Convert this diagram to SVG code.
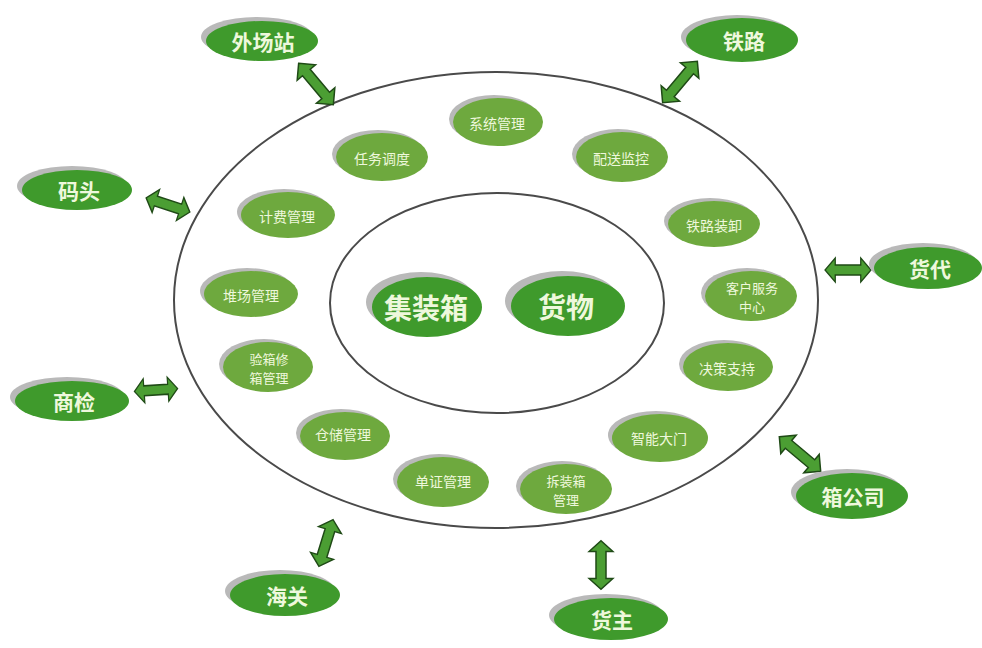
<svg xmlns="http://www.w3.org/2000/svg" xmlns:xlink="http://www.w3.org/1999/xlink" width="982" height="648" viewBox="0 0 982 648">
<style>
.ring{fill:none;stroke:#4a4a4a;stroke-width:2}
.sh{fill:#b9b9b9}
.big{fill:#3f9a2c}
.small{fill:#6ea93e}
.tb{font-family:"Noto Sans CJK SC","Noto Sans",sans-serif;fill:#eef8dc;text-anchor:middle;dominant-baseline:central}
.t1{font-size:21px;font-weight:bold}
.t0{font-size:28px;font-weight:bold}
.t2{font-size:14px}
.t3{font-size:13px}
.arr{fill:#4b9e33;stroke:#1f4a16;stroke-width:1.5;stroke-linejoin:miter}
</style>
<defs>
<path id="dbl" d="M-27,0 L-15,-12 L-15,-5 L15,-5 L15,-12 L27,0 L15,12 L15,5 L-15,5 L-15,12 Z"/>
</defs>
<rect width="982" height="648" fill="#ffffff"/>
<ellipse class="ring" cx="496" cy="300" rx="322" ry="228"/>
<ellipse class="ring" cx="497" cy="303" rx="167" ry="110"/>
<g id="connectors">
<use href="#dbl" class="arr" transform="translate(316,84) rotate(50)"/>
<use href="#dbl" class="arr" transform="translate(680,82) rotate(-50)"/>
<use href="#dbl" class="arr" transform="translate(168,205) rotate(18) scale(0.85,1)"/>
<use href="#dbl" class="arr" transform="translate(848,270) rotate(0) scale(0.85,1)"/>
<use href="#dbl" class="arr" transform="translate(156,390) rotate(-4) scale(0.8,1)"/>
<use href="#dbl" class="arr" transform="translate(800,454) rotate(40)"/>
<use href="#dbl" class="arr" transform="translate(601,565) rotate(90) scale(0.9,1)"/>
<use href="#dbl" class="arr" transform="translate(326,543) rotate(107) scale(0.9,1)"/>
</g>
<g id="n-waichangzhan"><ellipse class="sh" cx="257" cy="37" rx="56" ry="20"/><ellipse class="big" cx="262" cy="41" rx="56" ry="20"/><text class="tb t1" x="263" y="41">外场站</text></g>
<g id="n-tielu"><ellipse class="sh" cx="737" cy="37" rx="56" ry="22"/><ellipse class="big" cx="742" cy="40" rx="56" ry="22"/><text class="tb t1" x="744" y="40">铁路</text></g>
<g id="n-matou"><ellipse class="sh" cx="72" cy="186" rx="55" ry="20"/><ellipse class="big" cx="77" cy="190" rx="55" ry="20"/><text class="tb t1" x="79" y="190">码头</text></g>
<g id="n-huodai"><ellipse class="sh" cx="923" cy="264" rx="54" ry="21"/><ellipse class="big" cx="928" cy="268" rx="54" ry="21"/><text class="tb t1" x="930" y="268">货代</text></g>
<g id="n-shangjian"><ellipse class="sh" cx="67" cy="397" rx="57" ry="20"/><ellipse class="big" cx="72" cy="401" rx="57" ry="20"/><text class="tb t1" x="74" y="401">商检</text></g>
<g id="n-haiguan"><ellipse class="sh" cx="280" cy="591" rx="55" ry="21"/><ellipse class="big" cx="285" cy="595" rx="55" ry="21"/><text class="tb t1" x="287" y="595">海关</text></g>
<g id="n-huozhu"><ellipse class="sh" cx="606" cy="615" rx="57" ry="21"/><ellipse class="big" cx="611" cy="619" rx="57" ry="21"/><text class="tb t1" x="612" y="619">货主</text></g>
<g id="n-xianggongsi"><ellipse class="sh" cx="847" cy="492" rx="56" ry="23"/><ellipse class="big" cx="852" cy="496" rx="56" ry="23"/><text class="tb t1" x="853" y="496">箱公司</text></g>
<g id="n-jizhuangxiang"><ellipse class="sh" cx="421" cy="302" rx="55" ry="30"/><ellipse class="big" cx="427" cy="307" rx="55" ry="30"/><text class="tb t0" x="426" y="307">集装箱</text></g>
<g id="n-huowu"><ellipse class="sh" cx="562" cy="301" rx="57" ry="30"/><ellipse class="big" cx="568" cy="306" rx="57" ry="30"/><text class="tb t0" x="566" y="306">货物</text></g>
<g id="n-xitong"><ellipse class="sh" cx="494" cy="119" rx="45" ry="24"/><ellipse class="small" cx="498" cy="122" rx="45" ry="24"/><text class="tb t2" x="497" y="123">系统管理</text></g>
<g id="n-renwu"><ellipse class="sh" cx="378" cy="154" rx="46" ry="24"/><ellipse class="small" cx="382" cy="157" rx="46" ry="24"/><text class="tb t2" x="382" y="158">任务调度</text></g>
<g id="n-peisong"><ellipse class="sh" cx="618" cy="154" rx="46" ry="25"/><ellipse class="small" cx="622" cy="157" rx="46" ry="25"/><text class="tb t2" x="621" y="158">配送监控</text></g>
<g id="n-jifei"><ellipse class="sh" cx="284" cy="212" rx="47" ry="23"/><ellipse class="small" cx="288" cy="215" rx="47" ry="23"/><text class="tb t2" x="287" y="216">计费管理</text></g>
<g id="n-tieluzhuangxie"><ellipse class="sh" cx="710" cy="221" rx="46" ry="23"/><ellipse class="small" cx="714" cy="224" rx="46" ry="23"/><text class="tb t2" x="714" y="225">铁路装卸</text></g>
<g id="n-duichang"><ellipse class="sh" cx="247" cy="291" rx="47" ry="23"/><ellipse class="small" cx="251" cy="294" rx="47" ry="23"/><text class="tb t2" x="251" y="295">堆场管理</text></g>
<g id="n-kehu"><ellipse class="sh" cx="747" cy="293" rx="46" ry="25"/><ellipse class="small" cx="751" cy="296" rx="46" ry="25"/><text class="tb t3" x="752" y="287">客户服务</text><text class="tb t3" x="752" y="306">中心</text></g>
<g id="n-yanxiang"><ellipse class="sh" cx="264" cy="364" rx="45" ry="25"/><ellipse class="small" cx="268" cy="367" rx="45" ry="25"/><text class="tb t3" x="269" y="358">验箱修</text><text class="tb t3" x="269" y="377">箱管理</text></g>
<g id="n-juece"><ellipse class="sh" cx="724" cy="364" rx="45" ry="24"/><ellipse class="small" cx="728" cy="367" rx="45" ry="24"/><text class="tb t2" x="727" y="368">决策支持</text></g>
<g id="n-cangchu"><ellipse class="sh" cx="341" cy="433" rx="45" ry="24"/><ellipse class="small" cx="345" cy="436" rx="45" ry="24"/><text class="tb t2" x="343" y="434">仓储管理</text></g>
<g id="n-zhineng"><ellipse class="sh" cx="656" cy="435" rx="48" ry="24"/><ellipse class="small" cx="660" cy="438" rx="48" ry="24"/><text class="tb t2" x="659" y="438">智能大门</text></g>
<g id="n-danzheng"><ellipse class="sh" cx="439" cy="479" rx="46" ry="25"/><ellipse class="small" cx="443" cy="482" rx="46" ry="25"/><text class="tb t2" x="443" y="481">单证管理</text></g>
<g id="n-chaizhuang"><ellipse class="sh" cx="562" cy="486" rx="46" ry="25"/><ellipse class="small" cx="566" cy="489" rx="46" ry="25"/><text class="tb t3" x="566" y="480">拆装箱</text><text class="tb t3" x="566" y="499">管理</text></g>
</svg>
